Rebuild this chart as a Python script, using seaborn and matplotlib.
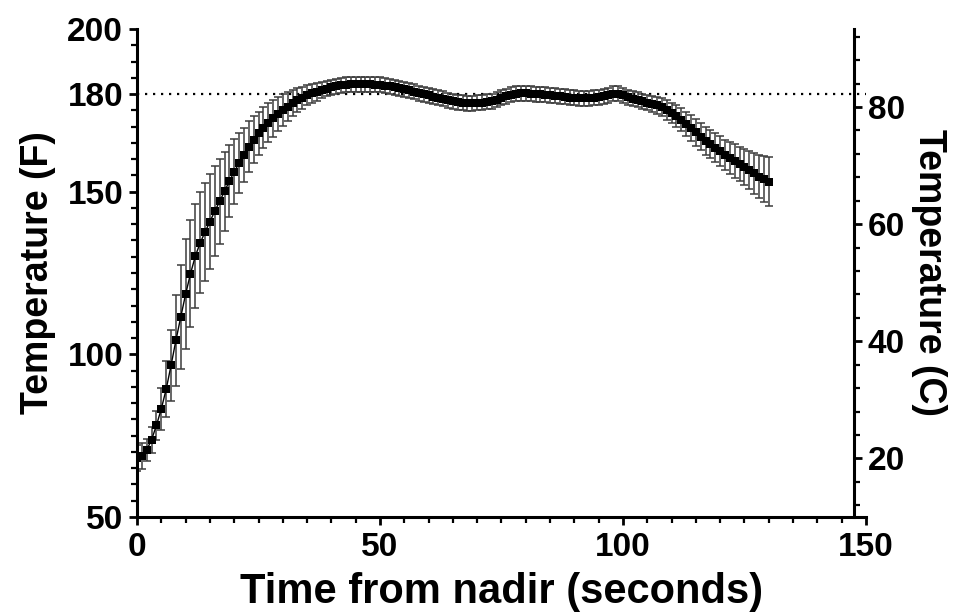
import numpy as np
import seaborn as sns
import matplotlib.pyplot as plt
from matplotlib.ticker import MultipleLocator, FixedLocator

# Time from nadir (s), one reading per second
time_s = list(range(0, 131))

# Mean temperature (F)
temp_f = [
    68.0, 68.7, 70.6, 73.8, 78.2, 83.3, 89.3, 96.6, 104.3, 111.5,
    118.5, 124.8, 130.2, 134.3, 137.6, 140.8, 144.0, 147.0, 150.1, 153.2,
    156.1, 158.8, 161.3, 163.8, 165.9, 167.9, 169.7, 171.2, 172.6, 173.8,
    175.0, 176.1, 177.2, 178.1, 178.9, 179.6, 180.2, 180.7, 181.2, 181.7,
    182.1, 182.4, 182.7, 182.9, 183.0, 183.0, 183.0, 183.0, 183.0, 182.9,
    182.8, 182.6, 182.4, 182.1, 181.8, 181.4, 181.1, 180.7, 180.3, 180.0,
    179.6, 179.2, 178.9, 178.5, 178.1, 177.8, 177.5, 177.3, 177.2, 177.2,
    177.3, 177.4, 177.6, 177.8, 178.2, 178.8, 179.3, 179.8, 180.1, 180.2,
    180.2, 180.1, 180.0, 179.9, 179.8, 179.7, 179.5, 179.3, 179.1, 178.9,
    178.8, 178.7, 178.7, 178.7, 178.8, 179.0, 179.3, 179.7, 180.1, 180.1,
    179.6, 179.0, 178.6, 178.2, 177.8, 177.4, 177.0, 176.5, 175.9, 175.1,
    174.2, 173.2, 172.1, 170.8, 169.5, 168.2, 166.9, 165.7, 164.6, 163.5,
    162.4, 161.3, 160.3, 159.4, 158.5, 157.6, 156.6, 155.6, 154.6, 153.8,
    153.1,
]

# Error bar half-length (F)
temp_sd = [
    4.0, 4.0, 3.5, 4.0, 4.5, 6.5, 8.5, 11.0, 14.0, 16.0,
    17.0, 16.5, 16.0, 15.5, 15.0, 14.5, 13.8, 13.0, 12.1, 11.1,
    10.0, 9.2, 8.4, 7.9, 7.2, 6.6, 6.3, 6.0, 5.7, 5.3,
    4.9, 4.5, 4.1, 3.7, 3.4, 3.1, 2.9, 2.7, 2.5, 2.4,
    2.3, 2.3, 2.3, 2.3, 2.3, 2.3, 2.3, 2.3, 2.3, 2.3,
    2.3, 2.3, 2.3, 2.3, 2.3, 2.3, 2.3, 2.3, 2.3, 2.3,
    2.3, 2.3, 2.3, 2.3, 2.3, 2.3, 2.3, 2.3, 2.3, 2.3,
    2.3, 2.3, 2.3, 2.3, 2.3, 2.3, 2.3, 2.3, 2.3, 2.3,
    2.3, 2.3, 2.3, 2.3, 2.3, 2.3, 2.3, 2.3, 2.3, 2.3,
    2.3, 2.3, 2.3, 2.3, 2.3, 2.3, 2.3, 2.3, 2.3, 2.3,
    2.3, 2.3, 2.3, 2.3, 2.3, 2.4, 2.5, 2.6, 2.8, 3.0,
    3.2, 3.4, 3.6, 3.8, 4.0, 4.1, 4.2, 4.3, 4.4, 4.5,
    4.6, 4.7, 4.9, 5.1, 5.3, 5.6, 5.9, 6.3, 6.7, 7.1,
    7.5,
]

f_ticks = [50, 100, 150, 180, 200]
c_ticks = [20, 40, 60, 80]
x_ticks = [0, 50, 100, 150]
target_f = 180

sns.set_style('ticks', {'axes.edgecolor': 'black', 'text.color': 'black',
                        'xtick.color': 'black', 'ytick.color': 'black',
                        'axes.labelcolor': 'black'})
plt.rcParams['font.family'] = ['Liberation Sans', 'DejaVu Sans']
plt.rcParams['font.weight'] = 'bold'
plt.rcParams['axes.labelweight'] = 'bold'

fig = plt.figure(figsize=(9.61, 6.14), dpi=100)
ax = fig.add_axes([0.1426, 0.158, 0.7585, 0.7948])

ax.errorbar(time_s, temp_f, yerr=temp_sd, fmt='none', ecolor='#3c3c3c',
            elinewidth=1.1, capsize=3, capthick=1.1, zorder=2)
sns.lineplot(x=time_s, y=temp_f, ax=ax, color='black', lw=1.0,
             marker='s', markersize=6.3, markeredgewidth=0, zorder=3)
ax.axhline(target_f, xmin=0, xmax=1, color='black', lw=1.6,
           linestyle=(0, (1, 2.6)), zorder=1)

ax.set_xlim(0, 150)
ax.set_ylim(50, 200)
ax.yaxis.set_major_locator(FixedLocator(f_ticks))
ax.yaxis.set_minor_locator(MultipleLocator(5))
ax.xaxis.set_major_locator(FixedLocator(x_ticks))
ax.xaxis.set_minor_locator(MultipleLocator(5))

for side in ['top', 'right']:
    ax.spines[side].set_visible(False)
for side in ['left', 'bottom']:
    ax.spines[side].set_linewidth(2.2)

ax.tick_params(which='major', length=6, width=2.0, labelsize=24, pad=4)
ax.tick_params(which='minor', length=4, width=1.6)
ax.tick_params(axis='x', which='major', pad=5)

ax.set_xlabel('Time from nadir (seconds)', fontsize=30, labelpad=6)
ax.set_ylabel('Temperature (F)', fontsize=27, labelpad=8)

# Celsius axis on the right
ax2 = ax.twinx()
ax2.set_ylim((50 - 32) / 1.8, (200 - 32) / 1.8)
ax2.yaxis.set_major_locator(FixedLocator(c_ticks))
ax2.yaxis.set_minor_locator(MultipleLocator(4))
for side in ['top', 'left', 'bottom']:
    ax2.spines[side].set_visible(False)
ax2.spines['right'].set_position(('data', 147.5))
ax2.spines['right'].set_linewidth(2.2)
ax2.tick_params(which='major', length=6, width=2.0, labelsize=24, pad=4)
ax2.tick_params(which='minor', length=4, width=1.6)
ax2.set_ylabel('Temperature (C)', fontsize=27, rotation=270, labelpad=30)

fig.savefig('out.png', dpi=100)
